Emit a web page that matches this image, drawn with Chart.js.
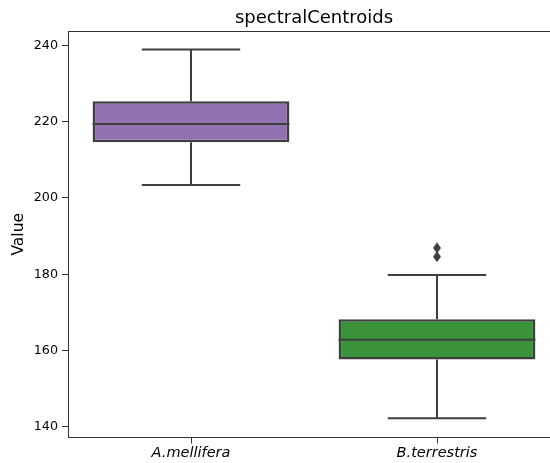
<!DOCTYPE html>
<html>
<head>
<meta charset="utf-8">
<title>spectralCentroids</title>
<script src="https://cdn.jsdelivr.net/npm/chart.js@4.4.1/dist/chart.umd.min.js"></script>
<style>
  html, body { margin: 0; padding: 0; background: #fff; overflow: hidden; }
  #wrap { width: 550px; height: 463px; }
</style>
</head>
<body>
<div id="wrap"><canvas id="chart" width="550" height="463"></canvas></div>
<script>
// DADOS
const species = ["A.mellifera", "B.terrestris"];
const whiskerLow = [203.4, 142.2];
const q1 = [214.6, 157.6];
const median = [219.4, 162.8];
const q3 = [225.4, 168.2];
const whiskerHigh = [239.0, 179.8];
const outlierSpecies = ["B.terrestris", "B.terrestris"];
const outlierValues = [186.9, 184.6];
const yTicks = [140, 160, 180, 200, 220, 240];

// ESTILO
const boxColors = ["#9072b0", "#3a923a"];
const lineColor = "#3f3f3f";
const spineColor = "#333333";
const font = "'DejaVu Sans', sans-serif";
const areaRight = 560; // eixo da direita fica além da borda do canvas

// marcador losango fino
const diamond = document.createElement("canvas");
diamond.width = 8;
diamond.height = 11;
const dctx = diamond.getContext("2d");
dctx.fillStyle = lineColor;
dctx.beginPath();
dctx.moveTo(4, 0);
dctx.lineTo(8, 5.5);
dctx.lineTo(4, 11);
dctx.lineTo(0, 5.5);
dctx.closePath();
dctx.fill();

// BIGODES, MEDIANAS E MOLDURA
const boxPlot = {
    id: "boxPlot",
    afterLayout(chart) {
        const x = chart.scales.x;
        const a = chart.chartArea;
        x.right = areaRight;
        x.width = x.right - x.left;
        a.right = areaRight;
        a.width = a.right - a.left;
        x.configure();
        // título centrado sobre a área do gráfico
        chart.titleBlock.left = a.left;
        chart.titleBlock.right = a.right;
    },
    beforeDatasetsDraw(chart) {
        const ctx = chart.ctx;
        const y = chart.scales.y;
        const bars = chart.getDatasetMeta(0).data;
        ctx.save();
        ctx.strokeStyle = lineColor;
        ctx.lineWidth = 2;
        bars.forEach((bar, i) => {
            const half = bar.width / 4;
            ctx.beginPath();
            ctx.moveTo(bar.x, y.getPixelForValue(q3[i]));
            ctx.lineTo(bar.x, y.getPixelForValue(whiskerHigh[i]));
            ctx.moveTo(bar.x, y.getPixelForValue(q1[i]));
            ctx.lineTo(bar.x, y.getPixelForValue(whiskerLow[i]));
            ctx.moveTo(bar.x - half, y.getPixelForValue(whiskerHigh[i]));
            ctx.lineTo(bar.x + half, y.getPixelForValue(whiskerHigh[i]));
            ctx.moveTo(bar.x - half, y.getPixelForValue(whiskerLow[i]));
            ctx.lineTo(bar.x + half, y.getPixelForValue(whiskerLow[i]));
            ctx.stroke();
        });
        ctx.restore();
    },
    afterDatasetsDraw(chart) {
        const ctx = chart.ctx;
        const y = chart.scales.y;
        const bars = chart.getDatasetMeta(0).data;
        ctx.save();
        ctx.strokeStyle = lineColor;
        ctx.lineWidth = 2;
        bars.forEach((bar, i) => {
            const py = y.getPixelForValue(median[i]);
            ctx.beginPath();
            ctx.moveTo(bar.x - bar.width / 2, py);
            ctx.lineTo(bar.x + bar.width / 2, py);
            ctx.stroke();
        });
        // topo e lado direito
        const a = chart.chartArea;
        ctx.strokeStyle = spineColor;
        ctx.lineWidth = 1;
        ctx.beginPath();
        ctx.moveTo(a.left, a.top + 0.5);
        ctx.lineTo(a.right, a.top + 0.5);
        ctx.lineTo(a.right, a.bottom);
        ctx.stroke();
        ctx.restore();
    }
};

// GRÁFICO
const chart = new Chart(document.getElementById("chart"), {
    type: "bar",
    data: {
        labels: species,
        datasets: [{
            type: "bar",
            data: species.map((s, i) => [q1[i], q3[i]]),
            backgroundColor: boxColors,
            borderColor: lineColor,
            borderWidth: 2.5,
            borderSkipped: false,
            barPercentage: 0.8,
            categoryPercentage: 1
        }, {
            type: "line",
            data: outlierSpecies.map((s, i) => ({ x: s, y: outlierValues[i] })),
            showLine: false,
            pointStyle: diamond,
            pointRadius: 4
        }]
    },
    options: {
        responsive: false,
        animation: false,
        layout: { padding: 0 },
        plugins: {
            legend: { display: false },
            tooltip: { enabled: false },
            title: {
                display: true,
                text: "spectralCentroids",
                color: "#000",
                font: { family: font, size: 18, weight: "normal" },
                padding: { top: 8, bottom: 1.4 }
            }
        },
        scales: {
            x: {
                type: "category",
                offset: true,
                grid: { drawOnChartArea: false, offset: false, tickLength: 6, color: spineColor },
                border: { color: spineColor, width: 1 },
                ticks: {
                    color: "#000",
                    padding: 1,
                    font: { family: font, size: 14.5, style: "italic" }
                },
                afterFit(scale) { scale.height = 25.5; }
            },
            y: {
                min: 137.14,
                max: 243.83,
                grid: { drawOnChartArea: false, tickLength: 6, color: spineColor },
                border: { color: spineColor, width: 1 },
                ticks: {
                    color: "#000",
                    padding: 4,
                    font: { family: font, size: 12.7 }
                },
                afterBuildTicks(scale) { scale.ticks = yTicks.map(v => ({ value: v })); },
                title: {
                    display: true,
                    text: "Value",
                    color: "#000",
                    font: { family: font, size: 15.5 },
                    padding: { top: 10, bottom: 0 }
                },
                afterFit(scale) { scale.width = 68; }
            }
        }
    },
    plugins: [boxPlot]
});
</script>
</body>
</html>
